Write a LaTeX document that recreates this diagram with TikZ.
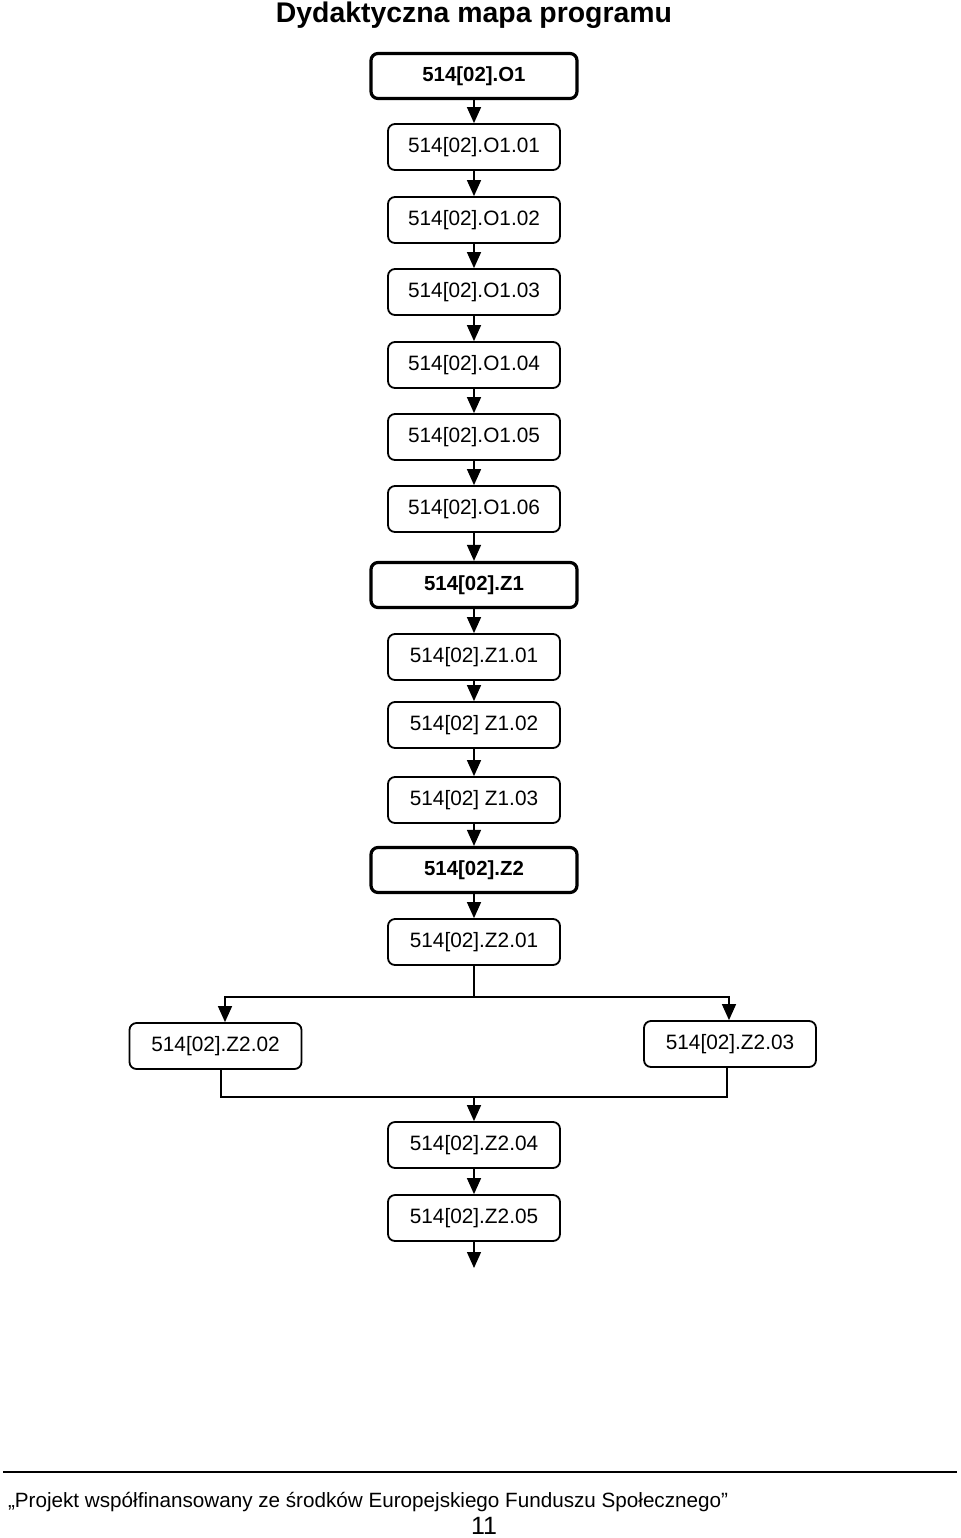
\documentclass[tikz,border=0pt]{standalone}
\usepackage{fontspec}
\setmainfont{Liberation Sans}
\usetikzlibrary{arrows.meta}

\begin{document}
\begin{tikzpicture}[
    x=0.5pt, y=-0.5pt,
    box/.style={draw, line width=0.9pt, rounded corners=3.5pt,
        minimum width=86pt, minimum height=23pt, inner sep=0pt,
        font=\fontsize{10.4}{12}\selectfont},
    mainbox/.style={box, line width=1.6pt, minimum width=103pt,
        minimum height=22.5pt, font=\fontsize{10.2}{12}\selectfont\bfseries},
    line/.style={line width=0.7pt},
    conn/.style={line, -{Triangle[length=8pt, width=7pt]}}]

    \useasboundingbox (0,0) rectangle (960,1538);

    % title
    \node at (474,15) (title) {\fontsize{14.2}{16}\selectfont\bfseries Dydaktyczna mapa programu};

    % first block O1
    \node[mainbox] at (474,76) (o1) {514[02].O1};
    \node[box] at (474,147) (o101) {514[02].O1.01};
    \node[box] at (474,220) (o102) {514[02].O1.02};
    \node[box] at (474,292) (o103) {514[02].O1.03};
    \node[box] at (474,365) (o104) {514[02].O1.04};
    \node[box] at (474,437) (o105) {514[02].O1.05};
    \node[box] at (474,509) (o106) {514[02].O1.06};

    % second block Z1
    \node[mainbox] at (474,585) (z1) {514[02].Z1};
    \node[box] at (474,657) (z101) {514[02].Z1.01};
    \node[box] at (474,725) (z102) {514[02] Z1.02};
    \node[box] at (474,800) (z103) {514[02] Z1.03};

    % third block Z2
    \node[mainbox] at (474,870) (z2) {514[02].Z2};
    \node[box] at (474,942) (z201) {514[02].Z2.01};
    \node[box] at (215.5,1046) (z202) {514[02].Z2.02};
    \node[box] at (730,1044) (z203) {514[02].Z2.03};
    \node[box] at (474,1145) (z204) {514[02].Z2.04};
    \node[box] at (474,1218) (z205) {514[02].Z2.05};

    % straight arrows down the column
    \draw[conn] (o1) -- (o101);
    \draw[conn] (o101) -- (o102);
    \draw[conn] (o102) -- (o103);
    \draw[conn] (o103) -- (o104);
    \draw[conn] (o104) -- (o105);
    \draw[conn] (o105) -- (o106);
    \draw[conn] (o106) -- (z1);
    \draw[conn] (z1) -- (z101);
    \draw[conn] (z101) -- (z102);
    \draw[conn] (z102) -- (z103);
    \draw[conn] (z103) -- (z2);
    \draw[conn] (z2) -- (z201);

    % split into two branches
    \coordinate (bl) at (225,997);
    \coordinate (br) at (729,997);
    \draw[conn] (z201) -- (z201 |- bl) -- (bl) -- (bl |- z202.north);
    \draw[conn] (z201 |- br) -- (br) -- (br |- z203.north);

    % join the branches again
    \coordinate (jl) at (221,1097);
    \coordinate (jr) at (727,1097);
    \draw[line] (z202.south -| jl) -- (jl) -- (jr) -- (z203.south -| jr);
    \draw[conn] (z204 |- jl) -- (z204);
    \draw[conn] (z204) -- (z205);

    % open arrow at the end
    \coordinate (end) at (474,1268);
    \draw[conn] (z205) -- (end);

    % footer
    \draw[line width=1pt] (3,1472) -- (957,1472);
    \node[anchor=west, font=\fontsize{10.33}{12}\selectfont] at (1,1502) (foot)
        {„Projekt współfinansowany ze środków Europejskiego Funduszu Społecznego”};
    \node[anchor=base, font=\fontsize{12.5}{14}\selectfont] at (484,1534) (page) {11};
\end{tikzpicture}
\end{document}
